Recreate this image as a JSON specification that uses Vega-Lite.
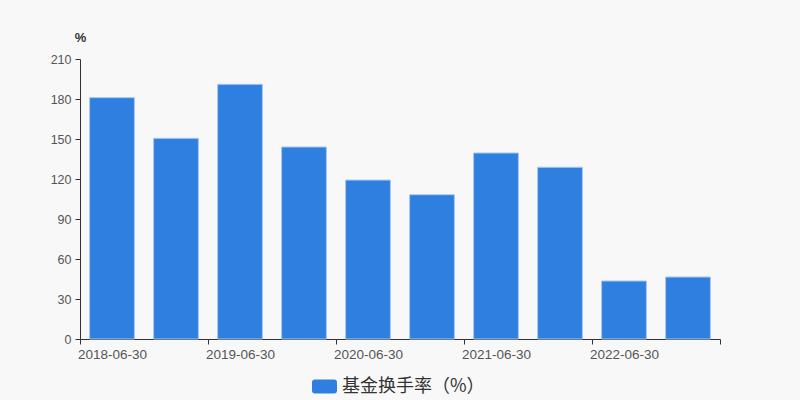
{
  "$schema": "https://vega.github.io/schema/vega-lite/v6.json",
  "width": 640,
  "height": 280,
  "autosize": {"type": "none"},
  "padding": {"left": 80, "top": 59, "right": 80, "bottom": 61},
  "background": "#f8f8f8",
  "config": {"view": {"stroke": null}, "font": "Liberation Sans"},
  "data": {
    "values": [
      {"date": "2018-06-30", "value": 181, "series": "基金换手率（%）"},
      {"date": "2018-12-31", "value": 150.5, "series": "基金换手率（%）"},
      {"date": "2019-06-30", "value": 191, "series": "基金换手率（%）"},
      {"date": "2019-12-31", "value": 144, "series": "基金换手率（%）"},
      {"date": "2020-06-30", "value": 119.2, "series": "基金换手率（%）"},
      {"date": "2020-12-31", "value": 108.2, "series": "基金换手率（%）"},
      {"date": "2021-06-30", "value": 139.5, "series": "基金换手率（%）"},
      {"date": "2021-12-31", "value": 128.8, "series": "基金换手率（%）"},
      {"date": "2022-06-30", "value": 43.5, "series": "基金换手率（%）"},
      {"date": "2022-12-31", "value": 46.5, "series": "基金换手率（%）"}
    ]
  },
  "mark": {"type": "bar", "stroke": "#a6c8f2", "strokeWidth": 1, "width": {"band": 0.7}},
  "encoding": {
    "x": {
      "field": "date",
      "type": "ordinal",
      "sort": null,
      "scale": {"paddingInner": 0, "paddingOuter": 0},
      "axis": {
        "title": null,
        "labelAngle": 0,
        "labelOverlap": false,
        "labelExpr": "indexof(['2018-06-30','2019-06-30','2020-06-30','2021-06-30','2022-06-30'], datum.value) >= 0 ? datum.value : ''",
        "tickBand": "extent",
        "tickOpacity": {"condition": {"test": "indexof(['2018-06-30','2019-06-30','2020-06-30','2021-06-30','2022-06-30'], datum.value) >= 0", "value": 0}, "value": 1},
        "domainColor": "#333333",
        "tickColor": "#333333",
        "tickSize": 5,
        "labelColor": "#555555",
        "labelFontSize": 13.5,
        "labelPadding": 3
      }
    },
    "y": {
      "field": "value",
      "type": "quantitative",
      "scale": {"domain": [0, 210], "nice": false},
      "axis": {
        "values": [0, 30, 60, 90, 120, 150, 180, 210],
        "grid": false,
        "domainColor": "#333333",
        "tickColor": "#333333",
        "tickSize": 5,
        "labelColor": "#555555",
        "labelFontSize": 12.5,
        "labelPadding": 4,
        "title": "%",
        "titleAngle": 0,
        "titleX": 0,
        "titleY": -22,
        "titleAlign": "center",
        "titleBaseline": "middle",
        "titleFontSize": 13,
        "titleFontWeight": "bold",
        "titleColor": "#333333"
      }
    },
    "color": {
      "field": "series",
      "type": "nominal",
      "scale": {"range": ["#2e7fe0"]},
      "legend": {
        "title": null,
        "orient": "none",
        "legendX": 232,
        "legendY": 315,
        "direction": "horizontal",
        "padding": 0,
        "symbolType": "M-0.76,-0.56 L0.76,-0.56 Q1,-0.56 1,-0.32 L1,0.32 Q1,0.56 0.76,0.56 L-0.76,0.56 Q-1,0.56 -1,0.32 L-1,-0.32 Q-1,-0.56 -0.76,-0.56 Z",
        "symbolSize": 625,
        "symbolStrokeWidth": 0,
        "symbolOpacity": 1,
        "labelFont": "Noto Sans CJK SC",
        "labelFontSize": 18,
        "labelColor": "#333333",
        "labelOffset": 5
      }
    }
  }
}
